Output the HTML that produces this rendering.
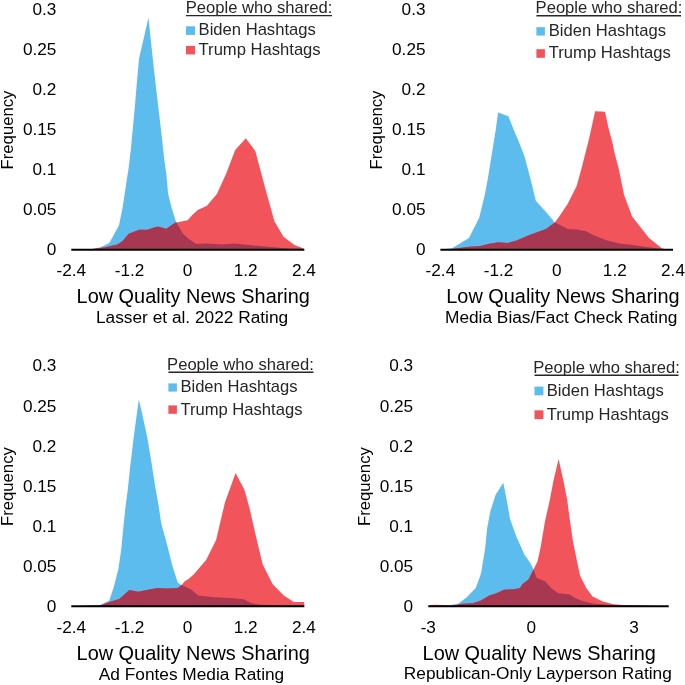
<!DOCTYPE html>
<html><head><meta charset="utf-8"><style>
html,body{margin:0;padding:0;background:#fff;}
svg{display:block;will-change:transform;}
text{font-family:"Liberation Sans",sans-serif;}
.t{font-size:17.2px;fill:#000;}
.f{font-size:16.7px;fill:#000;}
.a{font-size:19.9px;fill:#000;}
.s{font-size:17.3px;fill:#000;}
.l{font-size:16.6px;fill:#262626;}
</style></head><body>
<svg width="685" height="685" viewBox="0 0 685 685">
<rect width="685" height="685" fill="#fff"/>
<clipPath id="cb1"><polygon points="71.3,249.7 71.3,249.7 80.0,249.5 92.0,249.0 100.7,247.2 109.4,242.9 119.0,225.3 122.6,207.8 126.0,185.0 128.7,167.5 130.8,150.1 134.7,108.5 136.9,82.3 139.1,58.2 148.5,17.7 151.1,42.8 154.4,73.5 157.7,102.0 162.1,139.2 164.3,160.0 166.4,174.5 168.1,193.8 171.6,207.8 176.0,221.8 182.0,232.3 185.0,235.8 189.6,239.5 196.0,244.0 206.9,243.5 221.5,244.6 234.3,243.5 248.9,245.0 267.1,246.8 285.4,248.2 303.6,249.0 304.3,249.7 304.3,249.7"/></clipPath>
<polygon fill="#5BBCED" points="71.3,249.7 71.3,249.7 80.0,249.5 92.0,249.0 100.7,247.2 109.4,242.9 119.0,225.3 122.6,207.8 126.0,185.0 128.7,167.5 130.8,150.1 134.7,108.5 136.9,82.3 139.1,58.2 148.5,17.7 151.1,42.8 154.4,73.5 157.7,102.0 162.1,139.2 164.3,160.0 166.4,174.5 168.1,193.8 171.6,207.8 176.0,221.8 182.0,232.3 185.0,235.8 189.6,239.5 196.0,244.0 206.9,243.5 221.5,244.6 234.3,243.5 248.9,245.0 267.1,246.8 285.4,248.2 303.6,249.0 304.3,249.7 304.3,249.7"/>
<polygon fill="#F2545B" points="71.3,249.7 71.3,249.7 92.8,249.0 105.0,247.2 117.3,244.6 122.6,241.1 128.7,233.7 139.2,229.7 147.1,229.7 157.6,226.6 166.4,228.8 175.1,222.7 183.9,221.0 187.7,220.3 192.3,214.9 197.8,209.9 206.9,205.7 216.9,193.9 226.1,173.8 235.2,150.1 245.8,138.2 255.3,151.0 265.3,188.4 274.4,221.2 283.5,236.8 294.5,245.0 303.6,248.6 304.3,249.7 304.3,249.7"/>
<polygon fill="#A83752" clip-path="url(#cb1)" points="71.3,249.7 71.3,249.7 92.8,249.0 105.0,247.2 117.3,244.6 122.6,241.1 128.7,233.7 139.2,229.7 147.1,229.7 157.6,226.6 166.4,228.8 175.1,222.7 183.9,221.0 187.7,220.3 192.3,214.9 197.8,209.9 206.9,205.7 216.9,193.9 226.1,173.8 235.2,150.1 245.8,138.2 255.3,151.0 265.3,188.4 274.4,221.2 283.5,236.8 294.5,245.0 303.6,248.6 304.3,249.7 304.3,249.7"/>
<line x1="71.3" y1="249.7" x2="304.3" y2="249.7" stroke="#000" stroke-width="2"/>
<text class="t" x="56.4" y="255.4" text-anchor="end">0</text>
<text class="t" x="56.4" y="215.3" text-anchor="end">0.05</text>
<text class="t" x="56.4" y="175.2" text-anchor="end">0.1</text>
<text class="t" x="56.4" y="135.1" text-anchor="end">0.15</text>
<text class="t" x="56.4" y="95.0" text-anchor="end">0.2</text>
<text class="t" x="56.4" y="54.9" text-anchor="end">0.25</text>
<text class="t" x="56.4" y="14.8" text-anchor="end">0.3</text>
<text class="t" x="71.3" y="276.4" text-anchor="middle">-2.4</text>
<text class="t" x="129.5" y="276.4" text-anchor="middle">-1.2</text>
<text class="t" x="187.6" y="276.4" text-anchor="middle">0</text>
<text class="t" x="245.7" y="276.4" text-anchor="middle">1.2</text>
<text class="t" x="303.9" y="276.4" text-anchor="middle">2.4</text>
<text class="f" transform="translate(13.3,130) rotate(-90)" text-anchor="middle">Frequency</text>
<clipPath id="cb2"><polygon points="440.4,249.7 440.4,249.6 452.0,248.3 469.0,238.1 479.2,217.8 484.8,195.1 487.6,180.0 491.7,154.9 495.8,129.2 498.1,112.6 508.4,116.3 513.9,130.3 518.5,140.9 524.4,156.0 530.8,180.0 535.8,200.8 546.0,212.1 552.8,220.0 554.0,222.1 567.6,228.9 576.7,229.4 585.7,231.2 594.8,235.7 606.1,240.2 619.6,243.6 630.9,244.7 646.8,247.0 662.6,248.9 673.0,249.6 673.0,249.7"/></clipPath>
<polygon fill="#5BBCED" points="440.4,249.7 440.4,249.6 452.0,248.3 469.0,238.1 479.2,217.8 484.8,195.1 487.6,180.0 491.7,154.9 495.8,129.2 498.1,112.6 508.4,116.3 513.9,130.3 518.5,140.9 524.4,156.0 530.8,180.0 535.8,200.8 546.0,212.1 552.8,220.0 554.0,222.1 567.6,228.9 576.7,229.4 585.7,231.2 594.8,235.7 606.1,240.2 619.6,243.6 630.9,244.7 646.8,247.0 662.6,248.9 673.0,249.6 673.0,249.7"/>
<polygon fill="#F2545B" points="440.4,249.7 440.4,249.6 452.0,249.0 469.0,246.7 480.3,246.1 489.3,243.8 498.4,242.2 507.5,243.1 516.5,240.4 530.1,234.7 546.0,229.1 554.5,222.8 558.6,217.6 567.6,204.0 576.7,185.9 582.3,165.6 589.1,138.4 595.1,111.3 605.0,111.7 608.5,128.0 612.5,143.0 614.4,152.5 618.5,167.8 624.1,195.0 632.1,216.5 640.0,226.6 649.0,237.9 661.5,248.1 664.9,249.3 673.0,249.6 673.0,249.7"/>
<polygon fill="#A83752" clip-path="url(#cb2)" points="440.4,249.7 440.4,249.6 452.0,249.0 469.0,246.7 480.3,246.1 489.3,243.8 498.4,242.2 507.5,243.1 516.5,240.4 530.1,234.7 546.0,229.1 554.5,222.8 558.6,217.6 567.6,204.0 576.7,185.9 582.3,165.6 589.1,138.4 595.1,111.3 605.0,111.7 608.5,128.0 612.5,143.0 614.4,152.5 618.5,167.8 624.1,195.0 632.1,216.5 640.0,226.6 649.0,237.9 661.5,248.1 664.9,249.3 673.0,249.6 673.0,249.7"/>
<line x1="440.4" y1="249.7" x2="673" y2="249.7" stroke="#000" stroke-width="2"/>
<text class="t" x="425.5" y="255.4" text-anchor="end">0</text>
<text class="t" x="425.5" y="215.3" text-anchor="end">0.05</text>
<text class="t" x="425.5" y="175.2" text-anchor="end">0.1</text>
<text class="t" x="425.5" y="135.1" text-anchor="end">0.15</text>
<text class="t" x="425.5" y="95.0" text-anchor="end">0.2</text>
<text class="t" x="425.5" y="54.9" text-anchor="end">0.25</text>
<text class="t" x="425.5" y="14.8" text-anchor="end">0.3</text>
<text class="t" x="440.4" y="276.4" text-anchor="middle">-2.4</text>
<text class="t" x="498.6" y="276.4" text-anchor="middle">-1.2</text>
<text class="t" x="556.7" y="276.4" text-anchor="middle">0</text>
<text class="t" x="614.8" y="276.4" text-anchor="middle">1.2</text>
<text class="t" x="673.0" y="276.4" text-anchor="middle">2.4</text>
<text class="f" transform="translate(382.40000000000003,130) rotate(-90)" text-anchor="middle">Frequency</text>
<clipPath id="cb3"><polygon points="71.3,606.3 71.3,606.3 100.1,605.0 109.2,600.8 113.8,587.1 118.4,568.9 121.1,550.6 123.8,523.2 125.7,505.0 127.4,493.0 130.0,468.5 133.5,438.8 138.8,399.4 142.3,414.3 147.5,438.8 151.0,459.8 155.4,487.8 158.5,505.0 161.2,523.2 166.7,543.3 172.2,565.2 177.7,582.6 180.4,584.4 185.0,586.5 191.7,590.0 198.3,595.4 213.9,597.2 229.4,598.1 243.8,599.2 251.6,603.2 260.5,604.8 304.2,606.0 304.3,606.3 304.3,606.3"/></clipPath>
<polygon fill="#5BBCED" points="71.3,606.3 71.3,606.3 100.1,605.0 109.2,600.8 113.8,587.1 118.4,568.9 121.1,550.6 123.8,523.2 125.7,505.0 127.4,493.0 130.0,468.5 133.5,438.8 138.8,399.4 142.3,414.3 147.5,438.8 151.0,459.8 155.4,487.8 158.5,505.0 161.2,523.2 166.7,543.3 172.2,565.2 177.7,582.6 180.4,584.4 185.0,586.5 191.7,590.0 198.3,595.4 213.9,597.2 229.4,598.1 243.8,599.2 251.6,603.2 260.5,604.8 304.2,606.0 304.3,606.3 304.3,606.3"/>
<polygon fill="#F2545B" points="71.3,606.3 71.3,606.3 100.1,605.4 110.1,601.7 119.3,599.0 129.3,589.9 138.4,591.7 146.6,589.9 157.6,588.0 166.7,588.4 177.7,588.0 181.3,585.3 185.0,581.0 188.6,578.9 193.9,574.3 206.1,559.9 216.1,539.9 225.0,502.2 235.6,472.9 244.5,490.0 249.4,507.7 256.0,536.6 262.7,564.4 272.7,584.3 283.8,595.4 293.8,602.1 304.2,602.1 304.3,606.3 304.3,606.3"/>
<polygon fill="#A83752" clip-path="url(#cb3)" points="71.3,606.3 71.3,606.3 100.1,605.4 110.1,601.7 119.3,599.0 129.3,589.9 138.4,591.7 146.6,589.9 157.6,588.0 166.7,588.4 177.7,588.0 181.3,585.3 185.0,581.0 188.6,578.9 193.9,574.3 206.1,559.9 216.1,539.9 225.0,502.2 235.6,472.9 244.5,490.0 249.4,507.7 256.0,536.6 262.7,564.4 272.7,584.3 283.8,595.4 293.8,602.1 304.2,602.1 304.3,606.3 304.3,606.3"/>
<line x1="71.3" y1="606.3" x2="304.3" y2="606.3" stroke="#000" stroke-width="2"/>
<text class="t" x="56.4" y="612.0" text-anchor="end">0</text>
<text class="t" x="56.4" y="571.9" text-anchor="end">0.05</text>
<text class="t" x="56.4" y="531.8" text-anchor="end">0.1</text>
<text class="t" x="56.4" y="491.7" text-anchor="end">0.15</text>
<text class="t" x="56.4" y="451.6" text-anchor="end">0.2</text>
<text class="t" x="56.4" y="411.5" text-anchor="end">0.25</text>
<text class="t" x="56.4" y="371.4" text-anchor="end">0.3</text>
<text class="t" x="71.3" y="633.0" text-anchor="middle">-2.4</text>
<text class="t" x="129.5" y="633.0" text-anchor="middle">-1.2</text>
<text class="t" x="187.6" y="633.0" text-anchor="middle">0</text>
<text class="t" x="245.7" y="633.0" text-anchor="middle">1.2</text>
<text class="t" x="303.9" y="633.0" text-anchor="middle">2.4</text>
<text class="f" transform="translate(13.3,486.6) rotate(-90)" text-anchor="middle">Frequency</text>
<clipPath id="cb4"><polygon points="428.3,606.3 428.3,606.3 445.7,605.8 458.2,603.7 466.5,597.5 475.8,588.1 481.0,573.6 485.1,548.8 487.2,528.0 490.3,511.5 495.5,494.9 503.3,482.8 506.9,501.1 510.0,518.7 516.2,536.3 520.0,544.6 524.5,555.0 526.2,557.0 530.4,563.3 533.5,569.5 536.6,577.8 540.7,579.8 544.9,580.9 551.1,588.1 558.3,593.3 563.5,593.7 569.7,594.4 576.0,598.5 584.2,601.6 594.6,603.7 607.0,604.7 619.5,605.3 668.4,606.3 668.4,606.3"/></clipPath>
<polygon fill="#5BBCED" points="428.3,606.3 428.3,606.3 445.7,605.8 458.2,603.7 466.5,597.5 475.8,588.1 481.0,573.6 485.1,548.8 487.2,528.0 490.3,511.5 495.5,494.9 503.3,482.8 506.9,501.1 510.0,518.7 516.2,536.3 520.0,544.6 524.5,555.0 526.2,557.0 530.4,563.3 533.5,569.5 536.6,577.8 540.7,579.8 544.9,580.9 551.1,588.1 558.3,593.3 563.5,593.7 569.7,594.4 576.0,598.5 584.2,601.6 594.6,603.7 607.0,604.7 619.5,605.3 668.4,606.3 668.4,606.3"/>
<polygon fill="#F2545B" points="428.3,606.3 428.3,606.3 430.0,605.0 435.4,604.7 443.7,605.1 452.0,605.8 462.3,603.7 472.7,603.3 481.0,600.6 489.2,595.4 496.5,593.3 503.8,589.8 514.1,589.2 520.0,588.1 522.4,584.0 528.3,579.8 533.5,569.5 537.6,561.2 540.7,546.7 544.9,521.8 549.7,500.5 553.5,480.4 558.6,459.1 563.9,483.0 567.2,500.0 568.7,511.5 572.8,540.5 577.0,561.2 580.1,575.7 586.3,588.1 592.5,596.4 602.9,601.6 613.3,604.3 623.6,605.1 668.4,606.3 668.4,606.3"/>
<polygon fill="#A83752" clip-path="url(#cb4)" points="428.3,606.3 428.3,606.3 430.0,605.0 435.4,604.7 443.7,605.1 452.0,605.8 462.3,603.7 472.7,603.3 481.0,600.6 489.2,595.4 496.5,593.3 503.8,589.8 514.1,589.2 520.0,588.1 522.4,584.0 528.3,579.8 533.5,569.5 537.6,561.2 540.7,546.7 544.9,521.8 549.7,500.5 553.5,480.4 558.6,459.1 563.9,483.0 567.2,500.0 568.7,511.5 572.8,540.5 577.0,561.2 580.1,575.7 586.3,588.1 592.5,596.4 602.9,601.6 613.3,604.3 623.6,605.1 668.4,606.3 668.4,606.3"/>
<line x1="428.3" y1="606.3" x2="668.7" y2="606.3" stroke="#000" stroke-width="2"/>
<text class="t" x="413.09999999999997" y="612.0" text-anchor="end">0</text>
<text class="t" x="413.09999999999997" y="571.9" text-anchor="end">0.05</text>
<text class="t" x="413.09999999999997" y="531.8" text-anchor="end">0.1</text>
<text class="t" x="413.09999999999997" y="491.7" text-anchor="end">0.15</text>
<text class="t" x="413.09999999999997" y="451.6" text-anchor="end">0.2</text>
<text class="t" x="413.09999999999997" y="411.5" text-anchor="end">0.25</text>
<text class="t" x="413.09999999999997" y="371.4" text-anchor="end">0.3</text>
<text class="t" x="428.3" y="633.0" text-anchor="middle">-3</text>
<text class="t" x="531.2" y="633.0" text-anchor="middle">0</text>
<text class="t" x="634.1" y="633.0" text-anchor="middle">3</text>
<text class="f" transform="translate(370.0,486.6) rotate(-90)" text-anchor="middle">Frequency</text>
<text class="a" x="76.6" y="302.5">Low Quality News Sharing</text>
<text class="s" x="96" y="323.4">Lasser et al. 2022 Rating</text>
<text class="a" x="446.3" y="302.5">Low Quality News Sharing</text>
<text class="s" x="445" y="323.4">Media Bias/Fact Check Rating</text>
<text class="a" x="76.6" y="659.9">Low Quality News Sharing</text>
<text class="s" x="98.8" y="679.8">Ad Fontes Media Rating</text>
<text class="a" x="422.6" y="659.8">Low Quality News Sharing</text>
<text class="s" x="403.8" y="679.2">Republican-Only Layperson Rating</text>
<text class="l" x="185.7" y="12.5">People who shared:</text>
<line x1="186" y1="15.6" x2="332" y2="15.6" stroke="#262626" stroke-width="1.4"/>
<rect x="186" y="26.3" width="9" height="8.6" fill="#5BBCED"/>
<text class="l" x="198.6" y="35">Biden Hashtags</text>
<rect x="186" y="45.9" width="9" height="8.5" fill="#F2545B"/>
<text class="l" x="198.6" y="54.7">Trump Hashtags</text>
<text class="l" x="535.6" y="12.5">People who shared:</text>
<line x1="536.4" y1="15.7" x2="681" y2="15.7" stroke="#262626" stroke-width="1.4"/>
<rect x="536.4" y="27.2" width="8.5" height="8.4" fill="#5BBCED"/>
<text class="l" x="548.8" y="36.1">Biden Hashtags</text>
<rect x="536.4" y="49.2" width="8.5" height="8.6" fill="#F2545B"/>
<text class="l" x="548.8" y="58.3">Trump Hashtags</text>
<text class="l" x="167.1" y="369.7">People who shared:</text>
<line x1="168.4" y1="372.2" x2="313.5" y2="372.2" stroke="#262626" stroke-width="1.4"/>
<rect x="168.4" y="383.4" width="8.5" height="8.2" fill="#5BBCED"/>
<text class="l" x="180.4" y="392.2">Biden Hashtags</text>
<rect x="168.4" y="405.4" width="8.5" height="8.4" fill="#F2545B"/>
<text class="l" x="180.4" y="414.5">Trump Hashtags</text>
<text class="l" x="533.2" y="372.9">People who shared:</text>
<line x1="534.5" y1="375.3" x2="678.5" y2="375.3" stroke="#262626" stroke-width="1.4"/>
<rect x="534.5" y="386.6" width="8.9" height="8.7" fill="#5BBCED"/>
<text class="l" x="546.7" y="395.8">Biden Hashtags</text>
<rect x="534.5" y="410.3" width="8.9" height="8.8" fill="#F2545B"/>
<text class="l" x="546.7" y="419.9">Trump Hashtags</text>
</svg>
</body></html>
